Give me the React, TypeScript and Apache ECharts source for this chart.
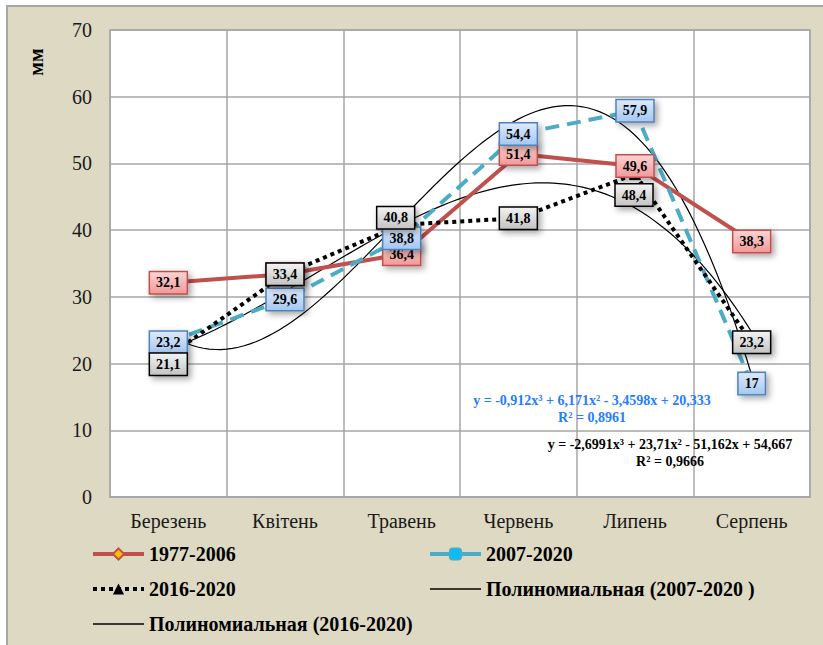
import React, { useEffect, useRef } from 'react';
import * as echarts from 'echarts';

const categories = ['Березень', 'Квітень', 'Травень', 'Червень', 'Липень', 'Серпень'];
const series1977 = [32.1, 33.4, 36.4, 51.4, 49.6, 38.3];
const series2007 = [23.2, 29.6, 38.8, 54.4, 57.9, 17];
const series2016 = [21.1, 33.4, 40.8, 41.8, 48.4, 23.2];
// polynomial trend coefficients: [x^3, x^2, x, const]
const poly2007 = [-2.6991, 23.71, -51.162, 54.667];
const poly2016 = [-0.912, 6.171, -3.4598, 20.333];
const yMin = 0;
const yMax = 70;
const yStep = 10;
const eq2016 = ['y = -0,912x³ + 6,171x² - 3,4598x + 20,333', 'R² = 0,8961'];
const eq2007 = ['y = -2,6991x³ + 23,71x² - 51,162x + 54,667', 'R² = 0,9666'];

const FONT = '"Liberation Serif", "Times New Roman", serif';

function polyCurve(c: number[]) {
  const pts: number[][] = [];
  for (let i = 0; i <= 100; i++) {
    const x = 1 + (5 * i) / 100;
    pts.push([x, c[0] * x * x * x + c[1] * x * x + c[2] * x + c[3]]);
  }
  return pts;
}

function grad(top: string, bottom: string) {
  return new echarts.graphic.LinearGradient(0, 0, 0, 1, [
    { offset: 0, color: top },
    { offset: 1, color: bottom },
  ]);
}

function labelBox(top: string, bottom: string, border: string) {
  return {
    show: true,
    position: 'inside',
    formatter: (p: any) => String(p.value).replace('.', ','),
    fontFamily: FONT,
    fontWeight: 'bold',
    fontSize: 14,
    color: '#000',
    backgroundColor: grad(top, bottom),
    borderColor: border,
    borderWidth: 1.5,
    padding: [4, 6, 3, 6],
    shadowColor: 'rgba(0,0,0,0.35)',
    shadowBlur: 6,
    shadowOffsetX: 3,
    shadowOffsetY: 3,
  };
}

const offsets2016: Record<number, number[]> = { 0: [0, 8], 2: [-6, -7], 4: [-1, 21] };

function eqText(text: string, x: number, y: number, color: string) {
  return {
    type: 'text',
    x,
    y,
    z: 10,
    style: { text, fontFamily: FONT, fontWeight: 'bold', fontSize: 14, fill: color, align: 'center', verticalAlign: 'middle' },
  };
}

export default function App() {
  const ref = useRef<HTMLDivElement>(null);
  useEffect(() => {
    if (!ref.current) return;
    const chart = echarts.init(ref.current, null, { renderer: 'svg' });
    const legendText = { fontFamily: FONT, fontSize: 20, fontWeight: 'bold', color: '#000', lineHeight: 20 };
    const trendLegend = (name: string) => ({
      name,
      itemStyle: { opacity: 0 },
      lineStyle: { width: 1.5, color: '#000', type: 'solid' },
    });
    chart.setOption({
      animation: false,
      backgroundColor: '#fff',
      graphic: [
        {
          type: 'rect',
          z: -10,
          shape: { x: 7, y: 6, width: 830, height: 660 },
          style: { fill: '#DDD9C3', stroke: '#A6A6A6', lineWidth: 2 },
        },
        {
          type: 'text',
          x: 36,
          y: 62,
          rotation: Math.PI / 2,
          style: {
            text: 'мм',
            fontFamily: FONT,
            fontWeight: 'bold',
            fontSize: 20,
            fill: '#000',
            align: 'center',
            verticalAlign: 'middle',
          },
        },
        eqText(eq2016[0], 592, 400, '#1F7DFF'),
        eqText(eq2016[1], 592, 417, '#1F7DFF'),
        eqText(eq2007[0], 670, 444, '#000'),
        eqText(eq2007[1], 670, 461, '#000'),
      ],
      grid: {
        left: 110,
        top: 30,
        width: 700,
        height: 467,
        show: true,
        backgroundColor: '#fff',
        borderColor: '#A6A6A6',
        borderWidth: 1.5,
      },
      legend: [
        {
          left: 91,
          top: 544,
          padding: 0,
          orient: 'vertical',
          itemWidth: 51,
          itemHeight: 14,
          itemGap: 15,
          lineStyle: { width: 4 },
          data: [
            { name: '1977-2006' },
            { name: '2016-2020' },
            trendLegend('Полиномиальная (2016-2020)'),
          ],
          textStyle: legendText,
        },
        {
          left: 428,
          top: 544,
          padding: 0,
          orient: 'vertical',
          itemWidth: 51,
          itemHeight: 14,
          itemGap: 15,
          lineStyle: { width: 4 },
          data: [
            { name: '2007-2020', lineStyle: { type: 'solid', width: 4 } },
            trendLegend('Полиномиальная (2007-2020 )'),
          ],
          textStyle: legendText,
        },
      ],
      xAxis: [
        {
          type: 'category',
          data: categories,
          boundaryGap: true,
          axisLine: { show: true, lineStyle: { color: '#A6A6A6', width: 1.5 } },
          axisTick: { show: false },
          axisLabel: { fontFamily: FONT, fontSize: 20, color: '#1a1a1a', margin: 14 },
          splitLine: { show: true, lineStyle: { color: '#A6A6A6', width: 1.5 } },
        },
        { type: 'value', min: 0.5, max: 6.5, show: false },
      ],
      yAxis: {
        type: 'value',
        min: yMin,
        max: yMax,
        interval: yStep,
        axisLine: { show: false },
        axisTick: { show: false },
        axisLabel: { fontFamily: FONT, fontSize: 20, color: '#1a1a1a', margin: 18 },
        splitLine: { show: true, lineStyle: { color: '#A6A6A6', width: 1.5 } },
      },
      series: [
        {
          name: 'Полиномиальная (2007-2020 )',
          type: 'line',
          xAxisIndex: 1,
          data: polyCurve(poly2007),
          symbol: 'none',
          z: 3,
          lineStyle: { color: '#000', width: 1.2 },
          itemStyle: { color: '#000' },
        },
        {
          name: 'Полиномиальная (2016-2020)',
          type: 'line',
          xAxisIndex: 1,
          data: polyCurve(poly2016),
          symbol: 'none',
          z: 3,
          lineStyle: { color: '#000', width: 1.2 },
          itemStyle: { color: '#000' },
        },
        {
          name: '1977-2006',
          type: 'line',
          data: series1977,
          z: 3,
          symbol: 'diamond',
          symbolSize: 11,
          itemStyle: { color: '#FFC000', borderColor: '#C0504D', borderWidth: 2 },
          lineStyle: { color: '#C0504D', width: 4 },
          label: labelBox('#FAD2D2', '#F29A9A', '#C0504D'),
        },
        {
          name: '2007-2020',
          type: 'line',
          data: series2007,
          z: 3,
          symbol: 'roundRect',
          symbolSize: 11,
          itemStyle: { color: '#00BFFF', borderColor: '#4BACC6', borderWidth: 2 },
          lineStyle: { color: '#4BACC6', width: 4, type: [14, 8] },
          label: labelBox('#DCE9FA', '#A6C8F2', '#4F81BD'),
        },
        {
          name: '2016-2020',
          type: 'line',
          z: 3,
          data: series2016.map((v, i) =>
            offsets2016[i] ? { value: v, label: { offset: offsets2016[i] } } : v
          ),
          symbol: 'triangle',
          symbolSize: 11,
          itemStyle: { color: '#000', borderColor: '#000' },
          lineStyle: { color: '#000', width: 4, type: [4, 4] },
          label: labelBox('#F2F2F2', '#C4C4C4', '#000'),
        },
      ],
    });
    return () => chart.dispose();
  }, []);
  return <div ref={ref} style={{ position: 'fixed', left: 0, top: 0, width: 823, height: 645 }} />;
}
